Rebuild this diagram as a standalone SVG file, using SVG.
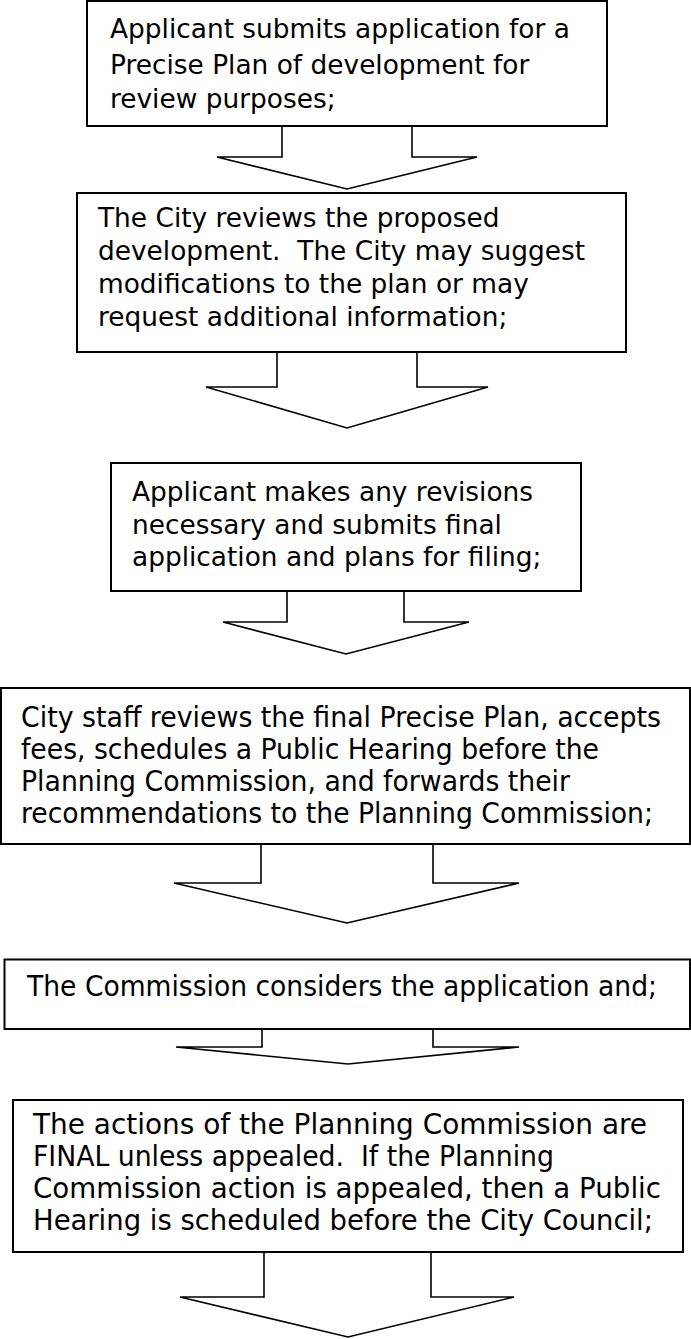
<svg xmlns="http://www.w3.org/2000/svg" width="691" height="1339" viewBox="0 0 691 1339">
<style>
.box{fill:#fff;stroke:#000;stroke-width:2}
.arr{fill:#fff;stroke:#000;stroke-width:1.6;stroke-linejoin:miter}
.v{font-family:"DejaVu Sans",Verdana,sans-serif;font-size:26.4px;fill:#000;white-space:pre}
.t{font-family:"DejaVu Sans Condensed","DejaVu Sans",sans-serif;font-stretch:condensed;font-size:29px;fill:#000;white-space:pre}
</style>
<rect width="691" height="1339" fill="#fff"/>
<g id="connectors">
<polyline class="arr" points="282,126 282,157 217,157 347,189 477,157 412,157 412,126"/>
<polyline class="arr" points="277,352 277,387 206,387 347,428 488,387 417,387 417,352"/>
<polyline class="arr" points="287,591 287,622 223,622 346,654 469,622 404,622 404,591"/>
<polyline class="arr" points="261,844 261,883 174,883 347,923 519,883 433,883 433,844"/>
<polyline class="arr" points="262,1029 262,1047 176,1047 348,1064 519,1047 433,1047 433,1029"/>
<polyline class="arr" points="264,1252 264,1297 180,1297 348,1337 514,1297 431,1297 431,1252"/>
</g>
<g id="n1">
<rect class="box" x="87" y="1" width="520" height="125"/>
<text class="v" x="110" y="38">Applicant submits application for a</text>
<text class="v" x="110" y="73.5">Precise Plan of development for</text>
<text class="v" x="110" y="108">review purposes;</text>
</g>
<g id="n2">
<rect class="box" x="77" y="193" width="549" height="159"/>
<text class="v" x="98" y="227">The City reviews the proposed</text>
<text class="v" x="98" y="260">development.  The City may suggest</text>
<text class="v" x="98" y="293">modifications to the plan or may</text>
<text class="v" x="98" y="326">request additional information;</text>
</g>
<g id="n3">
<rect class="box" x="111" y="463" width="470" height="128"/>
<text class="v" x="132" y="501">Applicant makes any revisions</text>
<text class="v" x="132" y="534">necessary and submits final</text>
<text class="v" x="132" y="566">application and plans for filing;</text>
</g>
<g id="n4">
<rect class="box" x="1" y="688" width="689" height="156"/>
<text class="t" x="21" y="727" textLength="640" lengthAdjust="spacingAndGlyphs">City staff reviews the final Precise Plan, accepts</text>
<text class="t" x="21" y="759" textLength="578" lengthAdjust="spacingAndGlyphs">fees, schedules a Public Hearing before the</text>
<text class="t" x="21" y="791" textLength="549" lengthAdjust="spacingAndGlyphs">Planning Commission, and forwards their</text>
<text class="t" x="21" y="823" textLength="632" lengthAdjust="spacingAndGlyphs">recommendations to the Planning Commission;</text>
</g>
<g id="n5">
<rect class="box" x="4.5" y="959.5" width="685.5" height="69.5"/>
<text class="t" x="27" y="996" textLength="630" lengthAdjust="spacingAndGlyphs">The Commission considers the application and;</text>
</g>
<g id="n6">
<rect class="box" x="13" y="1100" width="670" height="152"/>
<text class="t" x="33" y="1134" textLength="614" lengthAdjust="spacingAndGlyphs">The actions of the Planning Commission are</text>
<text class="t" x="33" y="1166" textLength="521" lengthAdjust="spacingAndGlyphs">FINAL unless appealed.  If the Planning</text>
<text class="t" x="33" y="1198" textLength="628" lengthAdjust="spacingAndGlyphs">Commission action is appealed, then a Public</text>
<text class="t" x="33" y="1230" textLength="620" lengthAdjust="spacingAndGlyphs">Hearing is scheduled before the City Council;</text>
</g>
</svg>
